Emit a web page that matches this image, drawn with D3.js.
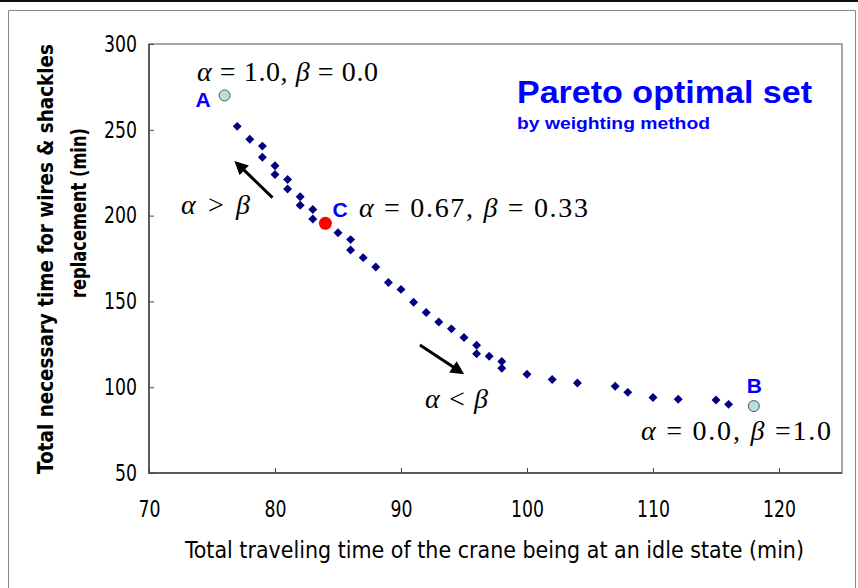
<!DOCTYPE html>
<html>
<head>
<meta charset="utf-8">
<script src="https://cdn.jsdelivr.net/npm/d3@7/dist/d3.min.js"></script>
<style>
  body { margin: 0; background: #fff; }
  svg { display: block; }
</style>
</head>
<body>
<div id="chart"></div>
<script>
// pareto points (x = idle travel time, y = wire & shackle replacement time)
var xVals = [77, 78, 79, 79, 80, 80, 81, 81, 82, 82, 83, 83, 85, 86, 86, 87, 88, 89, 90, 91,
             92, 93, 94, 95, 96, 96, 97, 98, 98, 100, 102, 104, 107, 108, 110, 112, 115, 116]
var yVals = [252, 244.5, 240.5, 234, 229, 224, 221, 215.5, 211, 206, 203.5, 198, 190, 186, 180, 175.5, 170, 161, 157, 149.5,
             143.5, 138, 134, 129, 124.5, 119.5, 118, 115, 111, 107.5, 104.5, 102.5, 100.5, 97, 94, 93, 92.5, 90]
var specialNames = ["A", "C", "B"]
var specialX = [76, 84, 118]
var specialY = [270, 195.5, 89]
var xTicks = [70, 80, 90, 100, 110, 120]
var yTicks = [50, 100, 150, 200, 250, 300]

var width = 858, height = 588
var margin = { top: 44, left: 149, right: 16, bottom: 115 }
var chartWidth = width - margin.left - margin.right
var chartHeight = height - margin.top - margin.bottom

var svg = d3.select("#chart").append("svg").attr("width", width).attr("height", height)

// outer frame like the original figure
svg.append("rect").attr("x", 0).attr("y", 0).attr("width", width).attr("height", 2).attr("fill", "#111")
svg.append("path").attr("d", "M8.5,588 V10.5 H855.5 V588").attr("fill", "none").attr("stroke", "#888").attr("stroke-width", 1)

var x = d3.scaleLinear().domain([70, 125]).range([0, chartWidth])
var y = d3.scaleLinear().domain([50, 300]).range([chartHeight, 0])

var g = svg.append("g").attr("transform", "translate(" + [margin.left, margin.top] + ")")

// plot box
g.append("rect").attr("width", chartWidth).attr("height", chartHeight)
  .attr("fill", "none").attr("stroke", "#8a8a8a").attr("stroke-width", 1.5)
g.append("path").attr("d", "M0,0 V" + chartHeight + " H" + chartWidth)
  .attr("fill", "none").attr("stroke", "#444").attr("stroke-width", 1.5)

var tickFont = "'DejaVu Sans Condensed', 'DejaVu Sans', sans-serif"

function styleTicks(sel) {
  sel.selectAll("text").attr("font-family", tickFont).attr("font-size", 23).attr("fill", "#000")
    .attr("textLength", function(d) { return String(d).length * 11 })
    .attr("lengthAdjust", "spacingAndGlyphs")
}

var xAxis = g.append("g").attr("transform", "translate(0," + chartHeight + ")")
  .call(d3.axisBottom(x).tickValues(xTicks).tickSizeInner(-5).tickSizeOuter(0).tickPadding(28))
xAxis.select(".domain").remove()
xAxis.selectAll("line").attr("stroke", "#444")
styleTicks(xAxis)

var yAxis = g.append("g")
  .call(d3.axisLeft(y).tickValues(yTicks).tickSizeInner(-5).tickSizeOuter(0).tickPadding(12))
yAxis.select(".domain").remove()
yAxis.selectAll("line").attr("stroke", "#444")
styleTicks(yAxis)

// axis titles
svg.append("text").attr("x", 185).attr("y", 558)
  .attr("font-family", tickFont).attr("font-size", 23)
  .attr("textLength", 619).attr("lengthAdjust", "spacingAndGlyphs")
  .text("Total traveling time of the crane being at an idle state (min)")

// y title: squeeze horizontally with a scale so glyphs keep their height
function yTitleLine(cx, cy, txt, len) {
  var t = svg.append("text")
    .attr("font-family", "'DejaVu Sans', Verdana, sans-serif")
    .attr("font-weight", "bold").attr("font-size", 20.5).attr("text-anchor", "middle")
    .text(txt)
  var k = len / t.node().getComputedTextLength()
  t.attr("transform", "translate(" + cx + "," + cy + ") rotate(-90) scale(" + k + ",1)")
}
yTitleLine(53, 259, "Total necessary time for wires & shackles", 430)
yTitleLine(86, 213, "replacement (min)", 170)

// pareto diamonds
var pts = xVals.map(function(d, i) { return { x: d, y: yVals[i] } })
g.append("g").selectAll("path").data(pts).enter().append("path")
  .attr("d", d3.symbol().type(d3.symbolSquare).size(40))
  .attr("transform", function(d) { return "translate(" + x(d.x) + "," + y(d.y) + ") rotate(45)" })
  .attr("fill", "#000080")

// special solutions A, C, B
var specials = specialNames.map(function(n, i) { return { name: n, x: specialX[i], y: specialY[i] } })
g.append("g").selectAll("circle").data(specials).enter().append("circle")
  .attr("cx", function(d) { return x(d.x) })
  .attr("cy", function(d) { return y(d.y) })
  .attr("r", function(d) { return d.name == "C" ? 6.5 : 5.5 })
  .attr("fill", function(d) { return d.name == "C" ? "#ff0000" : "#b7dfe0" })
  .attr("stroke", function(d) { return d.name == "C" ? "none" : "#555" })
  .attr("stroke-width", 1)

// blue letters next to the special points
var letterOffset = { A: [-29, 12], C: [7, -6], B: [-7, -13] }
g.append("g").selectAll("text").data(specials).enter().append("text")
  .attr("x", function(d) { return x(d.x) + letterOffset[d.name][0] })
  .attr("y", function(d) { return y(d.y) + letterOffset[d.name][1] })
  .attr("font-family", "Arial, 'Liberation Sans', sans-serif").attr("font-weight", "bold")
  .attr("font-size", 21).attr("fill", "#0000ff")
  .text(function(d) { return d.name })

// weight annotations in serif math style
function mathText(px, py, parts, len) {
  var t = svg.append("text").attr("x", px).attr("y", py)
    .attr("font-family", "'Liberation Serif', 'Times New Roman', serif").attr("font-size", 28)
    .attr("textLength", len).attr("lengthAdjust", "spacing")
  parts.forEach(function(p) {
    t.append("tspan").attr("font-style", p[1] ? "italic" : "normal").text(p[0])
  })
}
mathText(197, 81, [["\u03b1", 1], [" = 1.0, ", 0], ["\u03b2", 1], [" = 0.0", 0]], 181)
mathText(359, 217, [["\u03b1", 1], [" = 0.67, ", 0], ["\u03b2", 1], [" = 0.33", 0]], 229)
mathText(641, 440, [["\u03b1", 1], ["  = 0.0, ", 0], ["\u03b2", 1], [" =1.0", 0]], 190)
mathText(181, 214, [["\u03b1", 1], [" > ", 0], ["\u03b2", 1]], 69)
mathText(425, 408, [["\u03b1", 1], [" < ", 0], ["\u03b2", 1]], 63)

// direction arrows
svg.append("defs").append("marker").attr("id", "head")
  .attr("viewBox", "0 0 10 10").attr("refX", 2).attr("refY", 5)
  .attr("markerWidth", 5).attr("markerHeight", 4.5).attr("orient", "auto")
  .append("path").attr("d", "M0,0 L10,5 L0,10 Z").attr("fill", "#000")
var arrows = [[79.8, 210.5, 77.4, 227.5], [91.5, 124.6, 94.3, 111]]
g.append("g").selectAll("line").data(arrows).enter().append("line")
  .attr("x1", function(d) { return x(d[0]) }).attr("y1", function(d) { return y(d[1]) })
  .attr("x2", function(d) { return x(d[2]) }).attr("y2", function(d) { return y(d[3]) })
  .attr("stroke", "#000").attr("stroke-width", 3)
  .attr("marker-end", "url(#head)")

// title
svg.append("text").attr("x", 517).attr("y", 103)
  .attr("font-family", "Arial, 'Liberation Sans', sans-serif").attr("font-weight", "bold")
  .attr("font-size", 32).attr("fill", "#0000ff")
  .attr("textLength", 295).attr("lengthAdjust", "spacingAndGlyphs")
  .text("Pareto optimal set")
svg.append("text").attr("x", 517).attr("y", 129)
  .attr("font-family", "Arial, 'Liberation Sans', sans-serif").attr("font-weight", "bold")
  .attr("font-size", 17).attr("fill", "#0000ff")
  .attr("textLength", 193).attr("lengthAdjust", "spacingAndGlyphs")
  .text("by weighting method")
</script>
</body>
</html>
